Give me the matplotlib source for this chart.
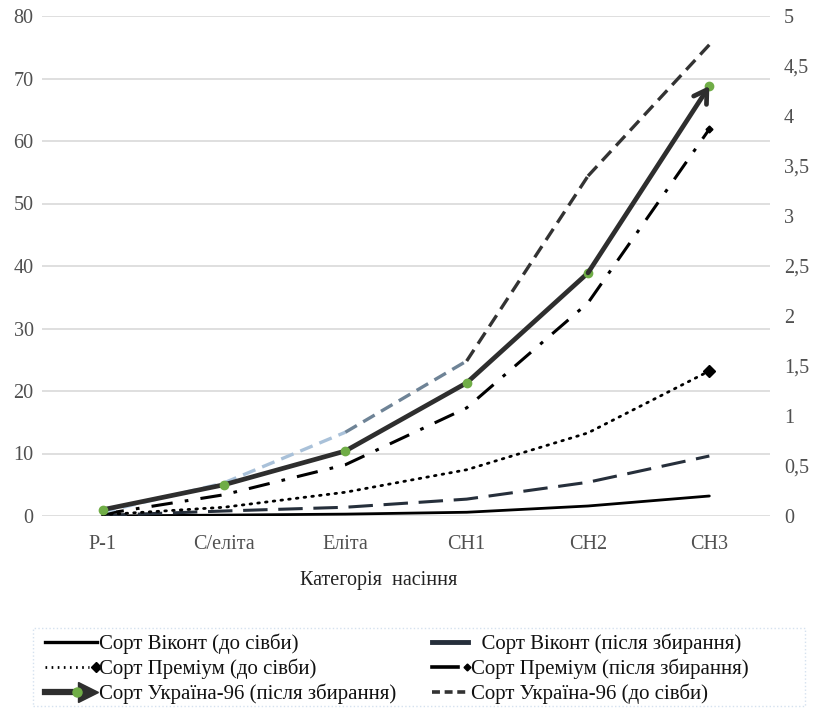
import matplotlib
matplotlib.use("Agg")
import matplotlib.pyplot as plt
from matplotlib.lines import Line2D
from matplotlib.legend_handler import HandlerBase
from matplotlib.patches import Rectangle
import numpy as np

categories = ["Р-1", "С/еліта", "Еліта", "СН1", "СН2", "СН3"]
vikont_before = [0.0, 0.15, 0.3, 0.6, 1.6, 3.2]
vikont_after = [0.1, 0.8, 1.4, 2.7, 5.4, 9.6]
premium_before = [0.2, 1.4, 3.8, 7.4, 13.3, 23.2]
premium_after = [0.3, 3.4, 8.2, 17.3, 34.1, 61.9]
ukr_after = [1.0, 5.0, 10.4, 21.3, 38.9, 68.8]
ukr_before = [0.6, 5.3, 13.4, 24.8, 54.4, 75.4]
left_ticks = [0, 10, 20, 30, 40, 50, 60, 70, 80]
right_ticks = [0, 0.5, 1, 1.5, 2, 2.5, 3, 3.5, 4, 4.5, 5]

plt.rcParams['font.family'] = ['Liberation Serif', 'DejaVu Serif']

W, H = 815, 711
fig = plt.figure(figsize=(W/100, H/100), dpi=100)
ax = fig.add_axes([42/W, 195/H, 728/W, 500/H])
x = np.arange(len(categories))

ax.set_xlim(-0.5, len(categories) - 0.5)
ax.set_ylim(0, 80)
ax.set_yticks(left_ticks)
ax.grid(axis='y', color='#d9d9d9', linewidth=1.2)
ax.set_axisbelow(True)
for s in ax.spines.values():
    s.set_visible(False)
ax.tick_params(axis='both', length=0, labelsize=14.5, colors='#505050')
ax.tick_params(axis='x', pad=14)
ax.tick_params(axis='y', pad=6)
ax.set_xticks(x)
ax.set_xticklabels(categories)

# Віконт
ax.plot(x, vikont_before, color='black', lw=2.0, solid_capstyle='round')
ax.plot(x, vikont_after, color='#262f3b', lw=2.2, dashes=(8, 3.5))
# Преміум
ax.plot(x, premium_before, color='black', lw=2.0, linestyle=(0, (0.6, 2.2)), dash_capstyle='round')
ax.plot(x[-1], premium_before[-1], marker='D', color='black', ms=6)
ax.plot(x, premium_after, color='black', lw=2.2, dashes=(7, 4, 1.2, 4))
ax.plot(x[-1], premium_after[-1], marker='D', color='black', ms=3.5)
# Україна-96 до сівби (gradient-like early part)
seg_colors = ['#bcd3ea', '#a9c1d9', '#6e8396', '#333333', '#333333']
for i in range(len(x) - 1):
    ax.plot(x[i:i+2], ukr_before[i:i+2], color=seg_colors[i], lw=2.4,
            dashes=(4, 2.2))
# Україна-96 після збирання
ax.plot(x[:-1], ukr_after[:-1], color='#2e2e2e', lw=3.4, solid_capstyle='round')
ax.annotate('', xy=(x[-1], ukr_after[-1]), xytext=(x[-2], ukr_after[-2]),
            arrowprops=dict(arrowstyle='->,head_length=0.9,head_width=0.55',
                            color='#2e2e2e', lw=3.4, shrinkA=0, shrinkB=0))
ax.plot(x, ukr_after, linestyle='none', marker='o', ms=6, color='#70ad47')

ax2 = ax.twinx()
ax2.set_ylim(0, 5)
ax2.set_yticks(right_ticks)
ax2.set_yticklabels([("%g" % t).replace('.', ',') for t in right_ticks])
for s in ax2.spines.values():
    s.set_visible(False)
ax2.tick_params(axis='y', length=0, labelsize=14.5, colors='#505050', pad=10)

fig.text(379/W, 1 - 580/H, "Категорія  насіння", ha='center', va='center',
         fontsize=14.5, color='#222222')

# legend handlers
class ArrowHandler(HandlerBase):
    def create_artists(self, legend, orig, xd, yd, w, h, fontsize, trans):
        y = h / 2 - yd
        ln = Line2D([-xd, -xd + w * 0.6], [y, y], color='#2e2e2e', lw=4.5, transform=trans)
        arr = Line2D([-xd + w * 0.82], [y], marker='>', ms=15, color='#2e2e2e', transform=trans)
        dot = Line2D([-xd + w * 0.62], [y], marker='o', ms=6.5, color='#70ad47', transform=trans)
        return [ln, arr, dot]

class DiamondHandler(HandlerBase):
    def __init__(self, ls, ms, lw, frac):
        super().__init__()
        self.ls = ls
        self.ms = ms
        self.lw = lw
        self.frac = frac
    def create_artists(self, legend, orig, xd, yd, w, h, fontsize, trans):
        y = h / 2 - yd
        ln = Line2D([-xd, -xd + w * self.frac], [y, y], color='black', lw=self.lw,
                    linestyle=self.ls, transform=trans)
        d = Line2D([-xd + w * 0.97], [y], marker='D', ms=self.ms, color='black', transform=trans)
        return [ln, d]

h1 = Line2D([], [], color='black', lw=2.4)
h3 = Line2D([], [], color='black')
h5 = Line2D([], [], color='black')
h2 = Line2D([], [], color='#262f3b', lw=3.5)
h4 = Line2D([], [], color='black')
h6 = Line2D([], [], color='#333333', lw=2.6, dashes=(2.2, 1.3))

col1_labels = ["Сорт Віконт (до сівби)", "Сорт Преміум (до сівби)",
               "Сорт Україна-96 (після збирання)"]
col2_labels = ["  Сорт Віконт (після збирання)", "Сорт Преміум (після збирання)",
               "Сорт Україна-96 (до сівби)"]

common = dict(fontsize=15, handletextpad=0.1, labelspacing=0.22, borderpad=0,
              borderaxespad=0, frameon=False, loc='center left')
leg1 = fig.legend([h1, h3, h5], col1_labels, bbox_to_anchor=(45/W, 1 - 669/H),
                  handlelength=2.5,
                  handler_map={h5: ArrowHandler(),
                               h3: DiamondHandler((0, (0.6, 1.6)), 5.5, 2.0, 0.85)},
                  **common)
leg2 = fig.legend([h2, h4, h6], col2_labels, bbox_to_anchor=(432/W, 1 - 669/H),
                  handlelength=1.75,
                  handler_map={h4: DiamondHandler('-', 3.5, 2.6, 0.72)},
                  **common)
for t in leg1.get_texts() + leg2.get_texts():
    t.set_color('#111111')

fig.add_artist(Rectangle((33/W, 1 - 706/H), 772/W, 78/H, transform=fig.transFigure,
                         fill=False, edgecolor='#d5e1ef', linestyle=':', linewidth=1.0))

fig.savefig("out.png", dpi=100)
